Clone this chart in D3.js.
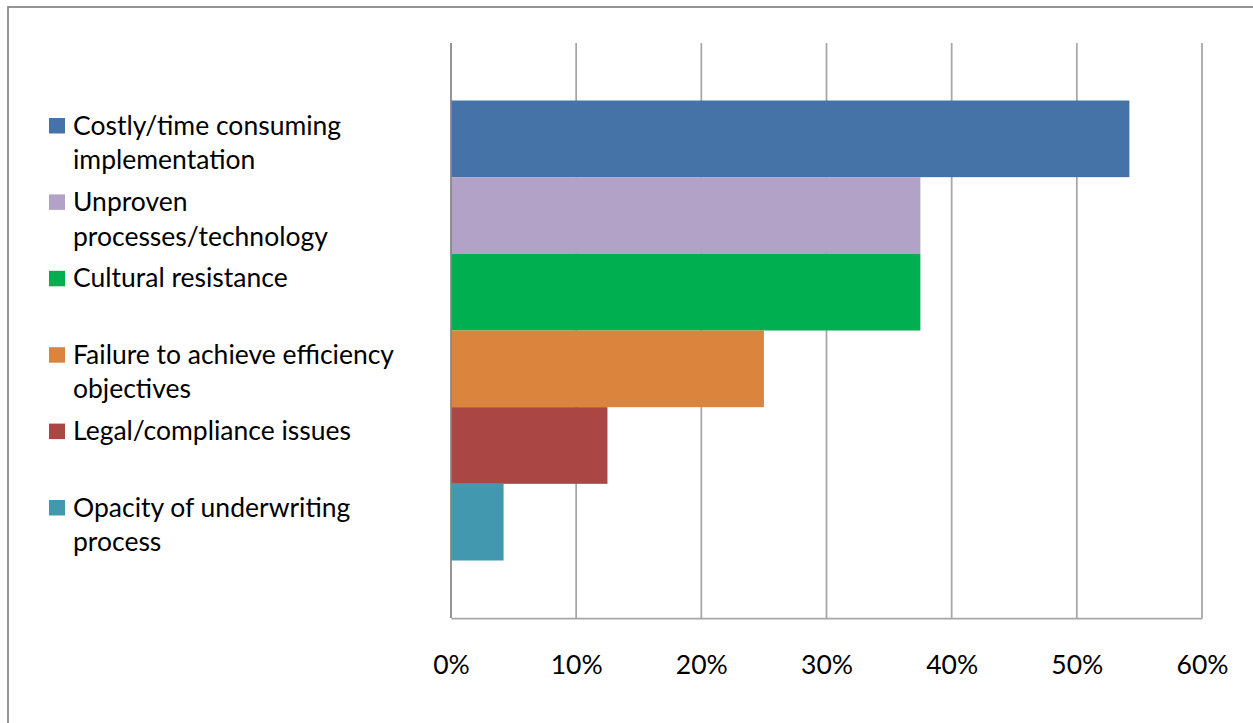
<!DOCTYPE html>
<html>
<head>
<meta charset="utf-8">
<script src="https://cdn.jsdelivr.net/npm/d3@7"></script>
<style>
  body { margin: 0; background: #fff; }
  svg { display: block; }
</style>
</head>
<body>
<svg id="svg" width="1253" height="723"></svg>
<script>
// barriers to adoption - share of respondents
const series = [
  "Costly/time consuming implementation",
  "Unproven processes/technology",
  "Cultural resistance",
  "Failure to achieve efficiency objectives",
  "Legal/compliance issues",
  "Opacity of underwriting process"
];
// how each legend entry is broken over lines
const legendLines = [
  ["Costly/time consuming", "implementation"],
  ["Unproven", "processes/technology"],
  ["Cultural resistance"],
  ["Failure to achieve efficiency", "objectives"],
  ["Legal/compliance issues"],
  ["Opacity of underwriting", "process"]
];
const values = [0.542, 0.375, 0.375, 0.25, 0.125, 0.042];
const colors = ["#4572A7", "#B2A2C7", "#00B050", "#DB843D", "#AA4643", "#4198AF"];
const ticks = [0, 0.1, 0.2, 0.3, 0.4, 0.5, 0.6];

var width = 1253;
var height = 723;
var plot = {top: 43, bottom: 618, left: 451, right: 1202};
var font = "Lato, 'Open Sans', sans-serif";
var fontSize = 26.5;

var svg = d3.select("#svg");

// outer chart border (only top + left show in the crop)
svg.append("rect")
    .attr("x", 8)
    .attr("y", 7)
    .attr("width", 1300)
    .attr("height", 800)
    .attr("fill", "none")
    .attr("stroke", "#868686")
    .attr("stroke-width", 1.75);

var x = d3.scaleLinear()
  .domain([0, 0.6])
  .range([plot.left, plot.right]);

var y = d3.scaleBand()
  .domain(series)
  .range([plot.top, plot.bottom])
  .paddingInner(0)
  .paddingOuter(0.75);

// gridlines
svg.append("g")
  .selectAll("line")
  .data(ticks.slice(1))
  .join("line")
    .attr("x1", d => x(d))
    .attr("x2", d => x(d))
    .attr("y1", plot.top)
    .attr("y2", plot.bottom)
    .attr("stroke", "#a6a6a6")
    .attr("stroke-width", 1.75);

// bars
svg.append("g")
  .selectAll("rect")
  .data(series)
  .join("rect")
    .attr("x", x(0))
    .attr("y", d => y(d))
    .attr("width", (d, i) => x(values[i]) - x(0))
    .attr("height", y.bandwidth())
    .attr("fill", (d, i) => colors[i]);

// axes lines
svg.append("line")
    .attr("x1", x(0)).attr("x2", x(0))
    .attr("y1", plot.top).attr("y2", plot.bottom)
    .attr("stroke", "#868686")
    .attr("stroke-width", 1.75);

var xAxis = svg.append("g")
    .attr("transform", "translate(0," + plot.bottom + ")")
    .call(d3.axisBottom(x).tickValues(ticks).tickFormat(d3.format(".0%")).tickSize(0).tickPadding(0));

xAxis.select(".domain")
    .attr("stroke", "#a6a6a6")
    .attr("stroke-width", 1.75);

xAxis.selectAll("text")
    .attr("dy", null)
    .attr("y", 56)
    .attr("font-family", font)
    .attr("font-size", fontSize)
    .attr("fill", "#000");

// legend
var legend = svg.append("g")
  .selectAll("g")
  .data(series)
  .join("g")
    .attr("transform", (d, i) => "translate(0," + (134.5 + i * 76.4) + ")");

legend.append("rect")
    .attr("x", 49)
    .attr("y", -16.5)
    .attr("width", 16)
    .attr("height", 15.5)
    .attr("fill", (d, i) => colors[i]);

legend.append("text")
    .attr("x", 73)
    .attr("font-family", font)
    .attr("font-size", fontSize)
    .attr("fill", "#000")
  .selectAll("tspan")
  .data((d, i) => legendLines[i])
  .join("tspan")
    .attr("x", 73)
    .attr("y", (d, j) => j * 34.7)
    .text(d => d);
</script>
</body>
</html>
